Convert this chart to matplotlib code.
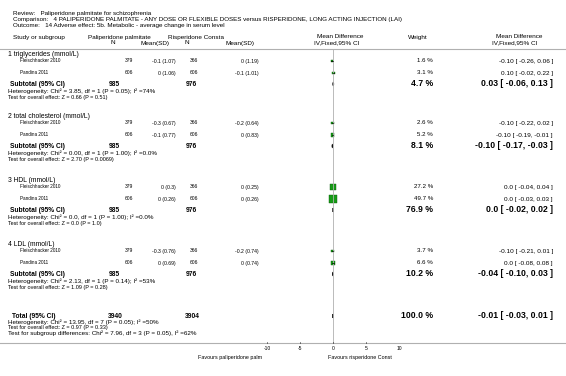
import matplotlib
matplotlib.use('Agg')
import matplotlib.pyplot as plt
from matplotlib.patches import Rectangle, Polygon

plt.rcParams['font.family'] = ['Liberation Sans', 'DejaVu Sans']

W, H = 566, 376

# --- data ---
review = 'Paliperidone palmitate for schizophrenia'
comparison = '4 PALIPERIDONE PALMITATE - ANY DOSE OR FLEXIBLE DOSES versus RISPERIDONE, LONG ACTING INJECTION (LAI)'
outcome = '14 Adverse effect: 5b. Metabolic - average change in serum level'

groups = ['1 triglycerides (mmol/L)', '2 total cholesterol (mmol/L)', '3 HDL (mmol/L)', '4 LDL (mmol/L)']
studies = ['Fleischhacker 2010', 'Pandina 2011']

pal_n = [379, 606, 379, 606, 379, 606, 379, 606]
pal_msd = ['-0.1 (1.07)', '0 (1.06)', '-0.3 (0.67)', '-0.1 (0.77)', '0 (0.3)', '0 (0.26)', '-0.3 (0.76)', '0 (0.69)']
risp_n = [366, 606, 366, 606, 366, 606, 366, 606]
risp_msd = ['0 (1.19)', '-0.1 (1.01)', '-0.2 (0.64)', '0 (0.83)', '0 (0.25)', '0 (0.26)', '-0.2 (0.74)', '0 (0.74)']
weights = [1.6, 3.1, 2.6, 5.2, 27.2, 49.7, 3.7, 6.6]
md = [-0.10, 0.10, -0.10, -0.10, 0.0, 0.0, -0.10, 0.0]
lo = [-0.26, -0.02, -0.22, -0.19, -0.04, -0.03, -0.21, -0.08]
hi = [0.06, 0.22, 0.02, -0.01, 0.04, 0.03, 0.01, 0.08]
md_text = ['-0.10 [ -0.26, 0.06 ]', '0.10 [ -0.02, 0.22 ]', '-0.10 [ -0.22, 0.02 ]', '-0.10 [ -0.19, -0.01 ]',
           '0.0 [ -0.04, 0.04 ]', '0.0 [ -0.03, 0.03 ]', '-0.10 [ -0.21, 0.01 ]', '0.0 [ -0.08, 0.08 ]']

sub_pal_n = [985, 985, 985, 985]
sub_risp_n = [976, 976, 976, 976]
sub_w = [4.7, 8.1, 76.9, 10.2]
sub_md = [0.03, -0.10, 0.0, -0.04]
sub_lo = [-0.06, -0.17, -0.02, -0.10]
sub_hi = [0.13, -0.03, 0.02, 0.03]
sub_text = ['0.03 [ -0.06, 0.13 ]', '-0.10 [ -0.17, -0.03 ]', '0.0 [ -0.02, 0.02 ]', '-0.04 [ -0.10, 0.03 ]']
het_text = ['Heterogeneity: Chi² = 3.85, df = 1 (P = 0.05); I² =74%',
            'Heterogeneity: Chi² = 0.00, df = 1 (P = 1.00); I² =0.0%',
            'Heterogeneity: Chi² = 0.0, df = 1 (P = 1.00); I² =0.0%',
            'Heterogeneity: Chi² = 2.13, df = 1 (P = 0.14); I² =53%']
z_text = ['Test for overall effect: Z = 0.66 (P = 0.51)',
          'Test for overall effect: Z = 2.70 (P = 0.0069)',
          'Test for overall effect: Z = 0.0 (P = 1.0)',
          'Test for overall effect: Z = 1.09 (P = 0.28)']

tot_pal_n, tot_risp_n = 3940, 3904
tot_w = 100.0
tot_md, tot_lo, tot_hi = -0.01, -0.03, 0.01
tot_text = '-0.01 [ -0.03, 0.01 ]'
tot_notes = ['Heterogeneity: Chi² = 13.95, df = 7 (P = 0.05); I² =50%',
             'Test for overall effect: Z = 0.97 (P = 0.33)',
             'Test for subgroup differences: Chi² = 7.96, df = 3 (P = 0.05), I² =62%']

ticks = [-10, -5, 0, 5, 10]
fav_left = 'Favours paliperidone palm'
fav_right = 'Favours risperidone Const'

# --- layout (pixel rows) ---
group_y = [54, 116, 180, 244]
tot_y = 316
axis_y = 343
top_y = 49
plot_x0, plot_x1 = 267, 399

fig = plt.figure(figsize=(W / 100, H / 100), dpi=100)
bg = fig.add_axes([0, 0, 1, 1])
bg.set_xlim(0, W)
bg.set_ylim(H, 0)
bg.axis('off')

fp = fig.add_axes([plot_x0 / W, 0, (plot_x1 - plot_x0) / W, 1])
fp.set_xlim(-10, 10)
fp.set_ylim(H, 0)
fp.axis('off')
px = (plot_x1 - plot_x0) / 20.0  # pixels per unit

fs_t, fs_h = 4.5, 4.6
fs_grp, fs_st, fs_n, fs_sd, fs_w, fs_ci = 4.9, 3.3, 3.6, 3.7, 4.4, 4.6
fs_het, fs_z = 4.5, 4.0
fs_b, fs_bn = 4.8, 6.2
grey = '#b0b0b0'
green = '#169b16'

# header
bg.text(13, 14, 'Review:   ' + review, fontsize=fs_t, va='center')
bg.text(13, 20, 'Comparison:   ' + comparison, fontsize=fs_t, va='center')
bg.text(13, 26, 'Outcome:   ' + outcome, fontsize=fs_t, va='center')
bg.text(13, 38, 'Study or subgroup', fontsize=fs_h, va='center')
bg.text(88, 37, 'Paliperidone palmitate', fontsize=fs_h, va='center')
bg.text(113, 43, 'N', fontsize=fs_h, va='center', ha='center')
bg.text(155, 43, 'Mean(SD)', fontsize=fs_h, va='center', ha='center')
bg.text(168, 37, 'Risperidone Consta', fontsize=fs_h, va='center')
bg.text(187, 43, 'N', fontsize=fs_h, va='center', ha='center')
bg.text(240, 43, 'Mean(SD)', fontsize=fs_h, va='center', ha='center')
bg.text(340, 37, 'Mean Difference', fontsize=fs_h, va='center', ha='center')
bg.text(337, 43, 'IV,Fixed,95% CI', fontsize=fs_h, va='center', ha='center')
bg.text(418, 37, 'Weight', fontsize=fs_h, va='center', ha='center')
bg.text(519, 37, 'Mean Difference', fontsize=fs_h, va='center', ha='center')
bg.text(515, 43, 'IV,Fixed,95% CI', fontsize=fs_h, va='center', ha='center')
bg.axhline(top_y, color=grey, lw=0.8)
bg.axhline(axis_y, color=grey, lw=0.8)

fp.plot([0, 0], [top_y, axis_y], color=grey, lw=0.6)


def diamond(y, m, l, h, hh=2.0):
    fp.add_patch(Polygon([[l, y], [m, y - hh], [h, y], [m, y + hh]], closed=True,
                         facecolor='white', edgecolor='black', lw=0.5))


for g in range(4):
    gy = group_y[g]
    bg.text(8, gy, groups[g], fontsize=fs_grp, va='center')
    for k in range(2):
        i = g * 2 + k
        y = gy + 7 + 12 * k
        bg.text(20, y, studies[k], fontsize=fs_st, va='center')
        bg.text(133, y, str(pal_n[i]), fontsize=fs_n, va='center', ha='right')
        bg.text(176, y, pal_msd[i], fontsize=fs_sd, va='center', ha='right')
        bg.text(198, y, str(risp_n[i]), fontsize=fs_n, va='center', ha='right')
        bg.text(259, y, risp_msd[i], fontsize=fs_sd, va='center', ha='right')
        bg.text(433, y, '%.1f %%' % weights[i], fontsize=fs_w, va='center', ha='right')
        bg.text(553, y, md_text[i], fontsize=fs_ci, va='center', ha='right')
        side = 1.14 * weights[i] ** 0.5 + 0.6
        fp.plot([lo[i], hi[i]], [y, y], color='black', lw=0.5)
        fp.add_patch(Rectangle((md[i] - side / 2 / px, y - side / 2), side / px, side,
                               facecolor=green, edgecolor='#0a5a0a', lw=0.3))
    sy = gy + 30
    bg.text(10, sy, 'Subtotal (95% CI)', fontsize=fs_b, va='center', fontweight='bold')
    bg.text(114, sy, str(sub_pal_n[g]), fontsize=fs_b, va='center', ha='center', fontweight='bold')
    bg.text(191, sy, str(sub_risp_n[g]), fontsize=fs_b, va='center', ha='center', fontweight='bold')
    bg.text(433, sy, '%.1f %%' % sub_w[g], fontsize=fs_bn, va='center', ha='right', fontweight='bold')
    bg.text(553, sy, sub_text[g], fontsize=fs_bn, va='center', ha='right', fontweight='bold')
    diamond(sy, sub_md[g], sub_lo[g], sub_hi[g])
    bg.text(8, sy + 7, het_text[g], fontsize=fs_het, va='center')
    bg.text(8, sy + 13, z_text[g], fontsize=fs_z, va='center')

bg.text(12, tot_y, 'Total (95% CI)', fontsize=fs_b, va='center', fontweight='bold')
bg.text(115, tot_y, str(tot_pal_n), fontsize=fs_b, va='center', ha='center', fontweight='bold')
bg.text(192, tot_y, str(tot_risp_n), fontsize=fs_b, va='center', ha='center', fontweight='bold')
bg.text(433, tot_y, '%.1f %%' % tot_w, fontsize=fs_bn, va='center', ha='right', fontweight='bold')
bg.text(553, tot_y, tot_text, fontsize=fs_bn, va='center', ha='right', fontweight='bold')
diamond(tot_y, tot_md, tot_lo, tot_hi)
bg.text(8, tot_y + 6.5, tot_notes[0], fontsize=fs_het, va='center')
bg.text(8, tot_y + 12, tot_notes[1], fontsize=fs_z, va='center')
bg.text(8, tot_y + 17.5, tot_notes[2], fontsize=fs_het, va='center')

# axis ticks
for t in ticks:
    fp.plot([t, t], [axis_y - 1.5, axis_y], color='black', lw=0.4)
    fp.text(t, axis_y + 5, str(t), fontsize=3.6, ha='center', va='center')
fp.text(-10 - 0.8, axis_y + 14, fav_left, fontsize=3.9, ha='right', va='center')
fp.text(-0.8, axis_y + 14, fav_right, fontsize=3.9, ha='left', va='center')

fig.savefig('out.png', dpi=100)
